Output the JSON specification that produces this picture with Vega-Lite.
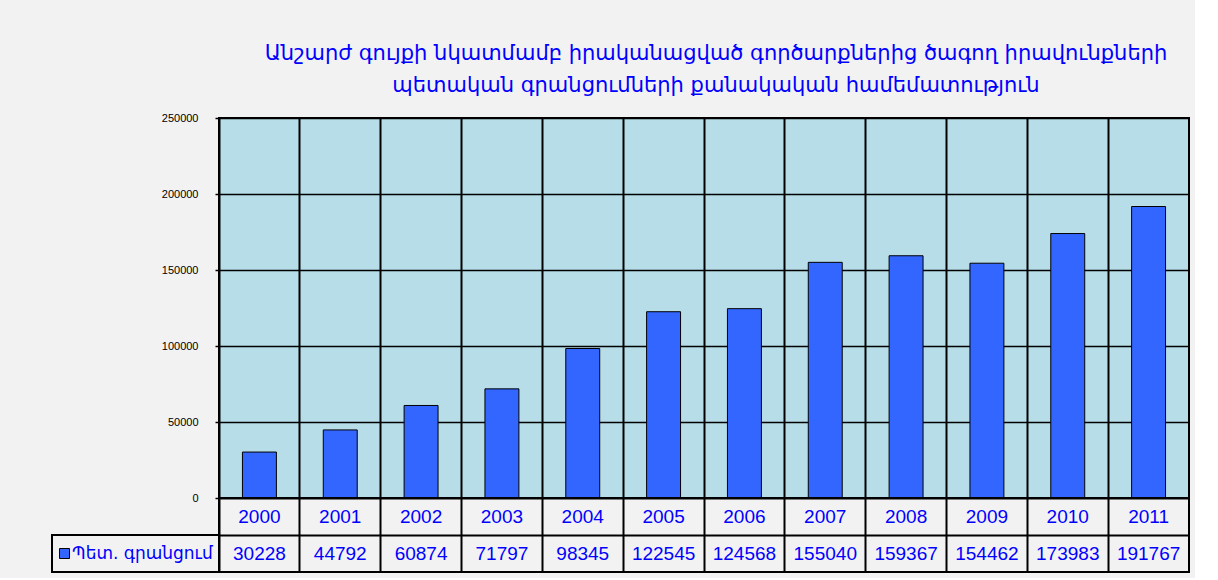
{
  "$schema": "https://vega.github.io/schema/vega-lite/v6.json",
  "background": "#F2F2F2",
  "padding": {"left": 51, "top": 42, "right": 5, "bottom": 5},
  "bounds": "flush",
  "spacing": 0,
  "columns": 2,
  "data": {"values": [
    {"year": "2000", "value": 30228},
    {"year": "2001", "value": 44792},
    {"year": "2002", "value": 60874},
    {"year": "2003", "value": 71797},
    {"year": "2004", "value": 98345},
    {"year": "2005", "value": 122545},
    {"year": "2006", "value": 124568},
    {"year": "2007", "value": 155040},
    {"year": "2008", "value": 159367},
    {"year": "2009", "value": 154462},
    {"year": "2010", "value": 173983},
    {"year": "2011", "value": 191767}
  ]},
  "concat": [
    {
      "width": 167, "height": 380,
      "view": {"stroke": null},
      "mark": {"type": "text"},
      "encoding": {"text": {"value": ""}}
    },
    {
      "width": 970, "height": 380,
      "title": {
        "text": ["Անշարժ գույքի նկատմամբ իրականացված գործարքներից ծագող իրավունքների", "պետական գրանցումների քանակական համեմատություն"],
        "color": "#0000FF", "fontSize": 21, "font": "DejaVu Sans", "fontWeight": "normal",
        "lineHeight": 32, "offset": 16, "dx": 12, "anchor": "middle"
      },
      "view": {"fill": "#B7DEE8", "stroke": "black", "strokeWidth": 2},
      "mark": {"type": "bar", "fill": "#3366FF", "stroke": "black", "strokeWidth": 1, "width": {"band": 0.42}},
      "encoding": {
        "x": {"field": "year", "type": "ordinal",
          "scale": {"type": "band", "paddingInner": 0, "paddingOuter": 0},
          "axis": {"title": null, "labels": false, "ticks": false, "domain": false, "grid": true, "bandPosition": 0, "gridColor": "black", "gridWidth": 2, "gridOpacity": 1}},
        "y": {"field": "value", "type": "quantitative",
          "scale": {"domain": [0, 250000]},
          "axis": {"title": null, "values": [0, 50000, 100000, 150000, 200000, 250000], "format": "d", "grid": true, "gridColor": "black", "gridWidth": 1.5, "gridOpacity": 1, "domain": false, "tickColor": "black", "tickSize": 4, "tickWidth": 1.5, "labelFontSize": 11, "labelFont": "Liberation Sans", "labelColor": "black", "labelPadding": 17}}
      }
    },
    {
      "width": 167, "height": 74,
      "data": {"values": [{"series": "Պետ. գրանցում"}]},
      "view": {"stroke": null},
      "layer": [
        {
          "mark": {"type": "rect", "fill": "#F2F2F2", "stroke": "black", "strokeWidth": 2},
          "encoding": {
            "y": {"datum": "value", "type": "nominal", "scale": {"type": "band", "domain": ["year", "value"], "paddingInner": 0, "paddingOuter": 0}, "axis": null},
            "x": {"datum": 0, "type": "quantitative", "scale": {"domain": [0, 1]}, "axis": null},
            "x2": {"datum": 1}
          }
        },
        {
          "mark": {"type": "square", "size": 100, "fill": "#3366FF", "stroke": "black", "strokeWidth": 1, "opacity": 1},
          "encoding": {
            "y": {"datum": "value", "type": "nominal"},
            "x": {"datum": 0.075, "type": "quantitative"}
          }
        },
        {
          "mark": {"type": "text", "align": "left", "fontSize": 17, "color": "#0000FF", "font": "DejaVu Sans"},
          "encoding": {
            "y": {"datum": "value", "type": "nominal"},
            "x": {"datum": 0.12, "type": "quantitative"},
            "text": {"field": "series"}
          }
        }
      ]
    },
    {
      "width": 970, "height": 74,
      "view": {"stroke": "black", "strokeWidth": 2, "fill": "#F2F2F2"},
      "encoding": {
        "x": {"field": "year", "type": "ordinal",
          "scale": {"type": "band", "paddingInner": 0, "paddingOuter": 0},
          "axis": {"title": null, "labels": false, "ticks": false, "domain": false, "grid": true, "bandPosition": 0, "gridColor": "black", "gridWidth": 2, "gridOpacity": 1}}
      },
      "layer": [
        {
          "mark": {"type": "text", "fontSize": 19, "color": "#0000FF", "font": "Liberation Sans"},
          "encoding": {
            "y": {"datum": "year", "type": "nominal",
              "scale": {"type": "band", "domain": ["year", "value"], "paddingInner": 0, "paddingOuter": 0},
              "axis": {"title": null, "labels": false, "ticks": false, "domain": false, "grid": true, "bandPosition": 0, "gridColor": "black", "gridWidth": 2, "gridOpacity": 1}},
            "text": {"field": "year"}
          }
        },
        {
          "mark": {"type": "text", "fontSize": 19, "color": "#0000FF", "font": "Liberation Sans"},
          "encoding": {
            "y": {"datum": "value", "type": "nominal"},
            "text": {"field": "value", "type": "quantitative", "format": "d"}
          }
        }
      ]
    }
  ]
}
